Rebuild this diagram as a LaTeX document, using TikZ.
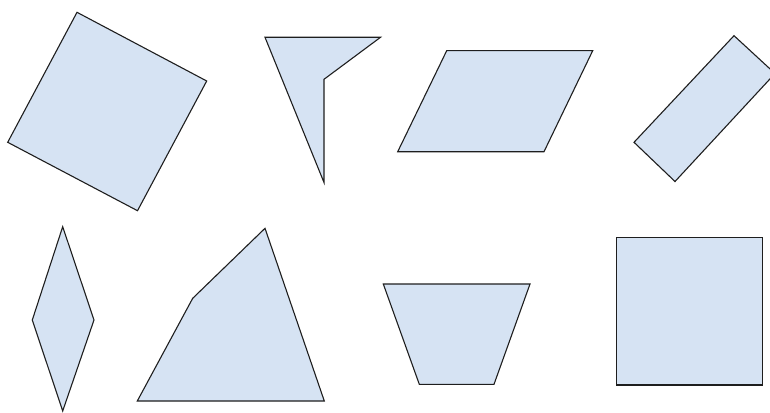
\documentclass[tikz,border=0pt]{standalone}
\usepackage{tikz}
\definecolor{shapefill}{RGB}{214,227,243}
\definecolor{shapeline}{RGB}{30,30,30}

\begin{document}
\begin{tikzpicture}[
  x=1pt, y=-1pt, % one unit per pixel, y running down
  poly/.style={draw=shapeline, fill=shapefill, line width=1.1pt, line join=miter}
]
\useasboundingbox (0,0) rectangle (770,412);
\clip (0,0) rectangle (770,412);

% Top row
\draw[poly] (77,12.3) -- (206.7,81) -- (137.5,210.7) -- (7.7,142.3) -- cycle;          % tilted square
\draw[poly] (265,37.3) -- (380.5,37.3) -- (324,79.3) -- (324,182.5) -- cycle;          % arrowhead
\draw[poly] (446.7,50.7) -- (592.7,50.7) -- (544,151.7) -- (397.7,151.7) -- cycle;     % parallelogram
\draw[poly] (734,35.7) -- (775,73.5) -- (675,181.5) -- (634,142.3) -- cycle;           % tilted rectangle

% Bottom row
\draw[poly] (62.7,226.7) -- (94,320) -- (62.7,411) -- (32.3,320) -- cycle;             % rhombus
\draw[poly] (265,228.3) -- (324.3,401) -- (137.3,401) -- (192.7,298.3) -- cycle;       % irregular quad
\draw[poly] (383.3,284) -- (530,284) -- (494,384.3) -- (419.3,384.3) -- cycle;         % trapezoid
\draw[poly] (616.7,237.3) rectangle (762.7,385);                                       % square

\end{tikzpicture}
\end{document}
